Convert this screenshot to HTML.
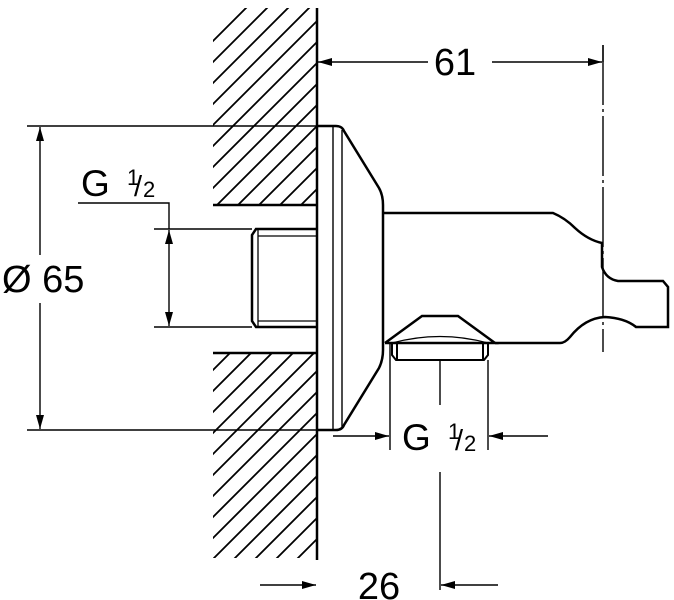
<!DOCTYPE html>
<html><head><style>body{margin:0;background:#fff}svg{display:block}text{font-family:"Liberation Sans",sans-serif;fill:#000}</style></head><body>
<svg width="674" height="600" viewBox="0 0 674 600" xmlns="http://www.w3.org/2000/svg">
<defs>
<clipPath id="c1"><rect x="213" y="8" width="104" height="197"/></clipPath>
<clipPath id="c2"><rect x="213" y="353" width="104" height="205"/></clipPath>
<marker id="a" markerWidth="14" markerHeight="8" refX="14" refY="4" orient="auto" markerUnits="userSpaceOnUse"><path d="M0,0 L14,4 L0,8z" fill="#000"/></marker>
</defs>
<g stroke="#000" stroke-width="1.6" fill="none">
<g clip-path="url(#c1)" stroke-width="1.8"><path d="M150,230 l240,-240 M171,230 l240,-240 M192,230 l240,-240 M213,230 l240,-240 M234,230 l240,-240 M255,230 l240,-240 M276,230 l240,-240 M297,230 l240,-240 M318,230 l240,-240 M129,230 l240,-240 M108,230 l240,-240 M87,230 l240,-240 M66,230 l240,-240 M45,230 l240,-240 M24,230 l240,-240"/></g>
<g clip-path="url(#c2)" stroke-width="1.8"><path d="M150,580 l240,-240 M171,580 l240,-240 M192,580 l240,-240 M213,580 l240,-240 M234,580 l240,-240 M255,580 l240,-240 M276,580 l240,-240 M297,580 l240,-240 M318,580 l240,-240 M129,580 l240,-240 M108,580 l240,-240 M87,580 l240,-240 M66,580 l240,-240 M45,580 l240,-240 M24,580 l240,-240 M3,580 l240,-240"/></g>
<path d="M213,205 H317 M213,353 H317" stroke-width="2.5"/>
<path d="M317,8 V560" stroke-width="2.5"/>
<path d="M317,126 H336 Q342,126 344,131 L379,188 Q383,195 383,205 V350 Q383,360 379,368 L344,425 Q342,430 336,430 H317" stroke-width="2.5"/>
<path d="M333,126 V430 M342,130 V428" stroke-width="1.4"/>
<path d="M317,229 H256 L252,235 V321 L256,327 H317" stroke-width="2.5"/>
<path d="M258,229 V327 M258,236 H317 M258,321 H317" stroke-width="1.3"/>
<path d="M383,213 H553 Q565,218 575,228 Q588,240 602,243 V267 Q606,279 618,281 H663 L668,287 V327 H636 Q625,318 605,317 Q585,318 570,337 Q565,343 560,343 H495" stroke-width="2.5"/>
<path d="M385,343 L422,316 H458 L495,343 H385" stroke-width="2.5"/>
<path d="M392,343 Q440,330 488,343" stroke-width="1.3"/>
<path d="M392,343 V355 L396,360 H484 L488,355 V343 M397,343 V360 M483,343 V360" stroke-width="2"/>
<path d="M603,45 V352" stroke-width="1.4" stroke-dasharray="60,4,3,4"/>
<g stroke-width="1.4">
<path d="M603,45 V62"/>
<path d="M428,62 H318" marker-end="url(#a)"/><path d="M492,62 H602" marker-end="url(#a)"/>
<path d="M27,126 H317 M27,430 H317"/>
<path d="M40,255 V127" marker-end="url(#a)"/><path d="M40,303 V429" marker-end="url(#a)"/>
<path d="M78,203 H169 V229 M154,229 H252 M154,327 H252"/>
<path d="M169,278 V230" marker-end="url(#a)"/><path d="M169,278 V326" marker-end="url(#a)"/>
<path d="M390,343 V450 M488,360 V450"/>
<path d="M333,436 H389" marker-end="url(#a)"/><path d="M548,436 H489" marker-end="url(#a)"/>
<path d="M440,360 V405 M440,472 V590"/>
<path d="M260,585 H316" marker-end="url(#a)"/><path d="M498,585 H441" marker-end="url(#a)"/>
</g>
</g>
<text x="455" y="75" font-size="38" text-anchor="middle">61</text>
<text x="2" y="292" font-size="38">Ø 65</text>
<text x="81" y="196" font-size="37">G</text><text x="127" y="185" font-size="22">1</text><text x="134" y="196" font-size="29">/</text><text x="143" y="197" font-size="22">2</text>
<text x="402" y="450" font-size="37">G</text><text x="448" y="439" font-size="22">1</text><text x="455" y="450" font-size="29">/</text><text x="464" y="451" font-size="22">2</text>
<text x="379" y="599" font-size="38" text-anchor="middle">26</text>
</svg>
</body></html>
